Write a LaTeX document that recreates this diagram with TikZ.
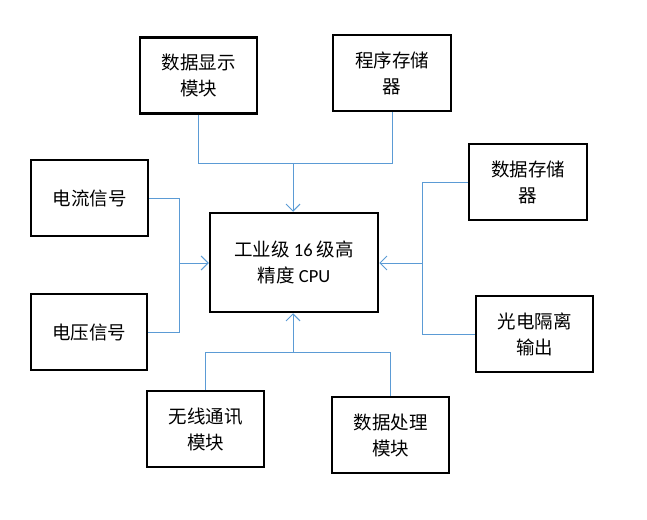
\documentclass[tikz,border=0pt]{standalone}
\usepackage{fontspec}
\setmainfont{Carlito}
\newfontfamily\cjk{Noto Sans CJK SC}
\usetikzlibrary{arrows.meta}
\definecolor{lineblue}{HTML}{5B9BD5}
\tikzset{
  box/.style={draw=black, line width=2.5pt, inner sep=0pt, align=center,
    font=\cjk\fontsize{18.5}{26}\selectfont},
  link/.style={draw=lineblue, line width=1pt},
  arr/.style={link, -{Straight Barb[length=7pt,width=14pt,line width=1pt]}}
}
\begin{document}
\begin{tikzpicture}[x=1pt,y=-1pt]
\useasboundingbox (0,0) rectangle (647,519);
\node[box, minimum width=117pt, minimum height=76pt] (disp) at (198.5,75.5) {数据显示\\模块};
\node[box, minimum width=118pt, minimum height=76pt] (prog) at (392,73) {程序存储\\器};
\node[box, minimum width=117pt, minimum height=76pt] (cur) at (89.5,198) {电流信号};
\node[box, minimum width=116pt, minimum height=76pt] (vol) at (89,332) {电压信号};
\node[box, minimum width=168pt, minimum height=99pt] (cpu) at (294,262.5) {工业级 {\fontspec{Carlito}16} 级高\\精度 {\fontspec{Carlito}CPU}};
\node[box, minimum width=118pt, minimum height=76pt] (dmem) at (528,182) {数据存储\\器};
\node[box, minimum width=117pt, minimum height=76pt] (opto) at (534.5,334) {光电隔离\\输出};
\node[box, minimum width=117pt, minimum height=76pt] (wifi) at (205.5,429) {无线通讯\\模块};
\node[box, minimum width=117pt, minimum height=76pt] (proc) at (390.5,435) {数据处理\\模块};

\coordinate (tj) at (293,163);
\coordinate (lj) at (179,263);
\coordinate (rj) at (422,263);
\coordinate (bj) at (293,352);

% top
\draw[link] (disp.south) -- (disp.south |- tj) -- (tj);
\draw[link] (prog.south) -- (prog.south |- tj) -- (tj);
\draw[arr] (tj) -- (tj |- cpu.north);
% left
\draw[link] (cur.east) -- (cur.east -| lj) -- (lj);
\draw[link] (vol.east) -- (vol.east -| lj) -- (lj);
\draw[arr] (lj) -- (lj -| cpu.west);
% right
\draw[link] (dmem.west) -- (dmem.west -| rj) -- (rj);
\draw[link] (opto.west) -- (opto.west -| rj) -- (rj);
\draw[arr] (rj) -- (rj -| cpu.east);
% bottom
\draw[link] (wifi.north) -- (wifi.north |- bj) -- (bj);
\draw[link] (proc.north) -- (proc.north |- bj) -- (bj);
\draw[arr] (bj) -- (bj |- cpu.south);
\end{tikzpicture}
\end{document}
